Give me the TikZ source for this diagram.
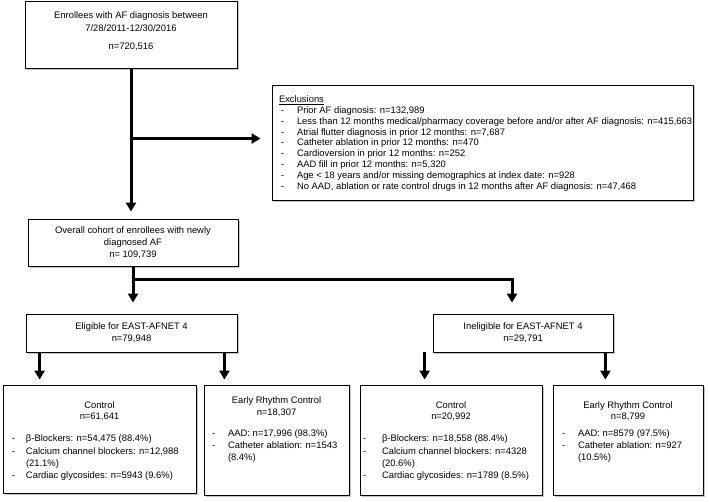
\documentclass[tikz,border=0pt]{standalone}
\usepackage{fontspec}
\setmainfont{Liberation Sans}
\usetikzlibrary{arrows.meta,shadows}

\newlength{\dashw}
\newcommand{\dashline}[1]{\par\noindent\makebox[\dashw][l]{-}#1}
\newcommand{\moreline}[1]{\par\noindent\hspace*{\dashw}#1}

\begin{document}
\begin{tikzpicture}[x=1pt,y=-1pt,
  box/.style={draw,line width=0.8pt,fill=white,inner sep=0pt,font=\fontsize{9.4}{12}\selectfont,
    drop shadow={shadow xshift=2pt,shadow yshift=-2pt,fill=black!45}},
  arr/.style={line width=3pt,-{Triangle[width=10pt,length=9pt]}}]
  \useasboundingbox (0,0) rectangle (709,502);

  \node[box] (top) at (131,34.5) {\parbox[c][67pt][t]{212pt}{%
    \fontsize{9.4}{13.5}\selectfont\centering
    \rule{0pt}{17.4pt}Enrollees with AF diagnosis between\par
    7/28/2011-12/30/2016\par\vspace{4.5pt}
    n=720,516\par}};
  \node[box] (excl) at (482.5,142.5) {\parbox[c][115pt][t]{421pt}{%
    \fontsize{9.4}{10.85}\selectfont\setlength{\dashw}{16pt}\leftskip=9pt
    \noindent\hspace*{-2pt}\rule{0pt}{17.5pt}\underline{Exclusions}
    \dashline{Prior AF diagnosis: n=132,989}
    \dashline{Less than 12 months medical/pharmacy coverage before and/or after AF diagnosis: n=415,663}
    \dashline{Atrial flutter diagnosis in prior 12 months: n=7,687}
    \dashline{Catheter ablation in prior 12 months: n=470}
    \dashline{Cardioversion in prior 12 months: n=252}
    \dashline{AAD fill in prior 12 months: n=5,320}
    \dashline{Age < 18 years and/or missing demographics at index date: n=928}
    \dashline{No AAD, ablation or rate control drugs in 12 months after AF diagnosis: n=47,468}}};
  \node[box,minimum width=210pt,minimum height=47pt,align=center] (cohort) at (133,242.5)
    {Overall cohort of enrollees with newly\\diagnosed AF\\n= 109,739};
  \node[box,minimum width=211pt,minimum height=38pt,align=center] (elig) at (131.5,333)
    {Eligible for EAST-AFNET 4\\n=79,948};
  \node[box,minimum width=180pt,minimum height=38pt,align=center] (inelig) at (523,333)
    {Ineligible for EAST-AFNET 4\\n=29,791};

  \node[box] (ctrlE) at (99.5,439) {\parbox[c][108pt][t]{193pt}{%
    \fontsize{9.4}{11}\selectfont
    {\centering\rule{0pt}{23.4pt}Control\par n=61,641\par}
    \vspace{10pt}\fontsize{9.4}{12.3}\selectfont\setlength{\dashw}{14pt}\leftskip=9pt
    \dashline{β-Blockers: n=54,475 (88.4\%)}
    \dashline{Calcium channel blockers: n=12,988}
    \moreline{(21.1\%)}
    \dashline{Cardiac glycosides: n=5943 (9.6\%)}}};
  \node[box] (ercE) at (276.5,440) {\parbox[c][110pt][t]{145pt}{%
    \fontsize{9.4}{12.5}\selectfont
    {\centering\rule{0pt}{18pt}Early Rhythm Control\par n=18,307\par}
    \vspace{8.5pt}\fontsize{9.4}{12}\selectfont\setlength{\dashw}{16pt}\leftskip=8pt
    \dashline{AAD: n=17,996 (98.3\%)}
    \dashline{Catheter ablation: n=1543}
    \moreline{(8.4\%)}}};
  \node[box] (ctrlI) at (451,440) {\parbox[c][110pt][t]{182pt}{%
    \fontsize{9.4}{11}\selectfont
    {\centering\rule{0pt}{23.4pt}Control\par n=20,992\par}
    \vspace{10pt}\fontsize{9.4}{12.3}\selectfont\setlength{\dashw}{19pt}\leftskip=3pt
    \dashline{β-Blockers: n=18,558 (88.4\%)}
    \dashline{Calcium channel blockers: n=4328}
    \moreline{(20.6\%)}
    \dashline{Cardiac glycosides: n=1789 (8.5\%)}}};
  \node[box] (ercI) at (628,440) {\parbox[c][110pt][t]{150pt}{%
    \fontsize{9.4}{11}\selectfont
    {\centering\rule{0pt}{23.4pt}Early Rhythm Control\par n=8,799\par}
    \vspace{5pt}\fontsize{9.4}{12}\selectfont\setlength{\dashw}{16pt}\leftskip=9pt
    \dashline{AAD: n=8579 (97.5\%)}
    \dashline{Catheter ablation: n=927}
    \moreline{(10.5\%)}}};

  \coordinate (exin) at ([yshift=4pt]excl.west);
  \coordinate (e1) at ([xshift=14pt]elig.south west);
  \coordinate (e2) at ([xshift=-13pt]elig.south east);
  \coordinate (i1) at ([xshift=-8pt]inelig.south west);
  \coordinate (i2) at ([xshift=-8pt]inelig.south east);

  \draw[arr,shorten >=7pt] (top.south) -- (top.south |- cohort.north);
  \draw[arr,shorten >=11pt] (top.south |- exin) -- (exin);
  \draw[arr,shorten >=11pt] (cohort.south) -- ++(0,13) coordinate (split) -| ([xshift=-11pt]inelig.north);
  \draw[arr,shorten >=11pt] (split) -- (split |- elig.north);
  \draw[arr,shorten >=5pt] (e1) -- (e1 |- ctrlE.north);
  \draw[arr,shorten >=5pt] (e2) -- (e2 |- ercE.north);
  \draw[arr,shorten >=5pt] (i1) -- (i1 |- ctrlI.north);
  \draw[arr,shorten >=5pt] (i2) -- (i2 |- ercI.north);
\end{tikzpicture}
\end{document}
